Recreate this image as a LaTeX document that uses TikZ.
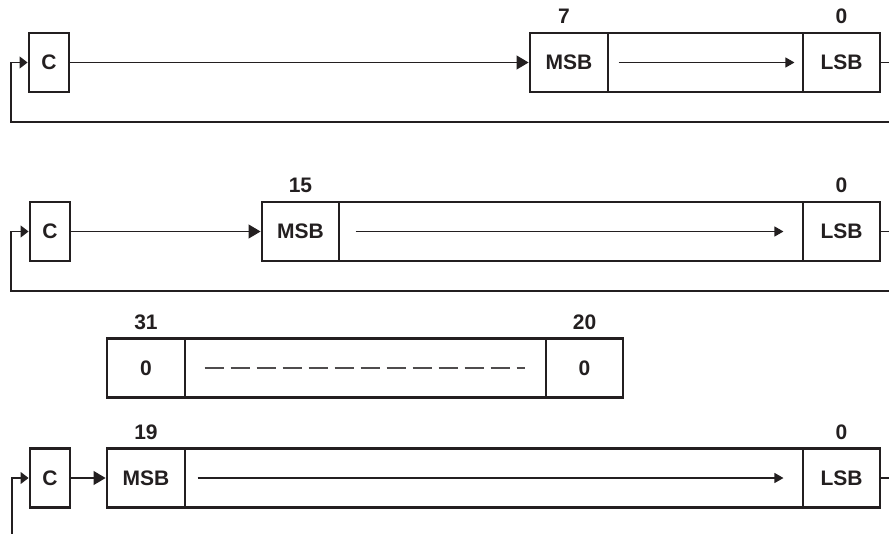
\documentclass[tikz,border=0pt]{standalone}
\usepackage{fontspec}
\setmainfont{Liberation Sans}
\usetikzlibrary{arrows.meta}
\definecolor{ink}{HTML}{231F20}
\tikzset{
  box/.style={draw=ink, line width=2.9pt, rectangle, inner sep=0pt, minimum height=59pt,
    font=\fontsize{21}{21}\selectfont\bfseries, text=ink},
  lab/.style={anchor=base, inner sep=0pt, font=\fontsize{21}{21}\selectfont\bfseries, text=ink},
  conn/.style={draw=ink, line width=1.2pt},
  bigtip/.style={-{Triangle[length=12pt,width=14pt]}},
  smalltip/.style={-{Triangle[length=9pt,width=10pt]}},
  fbtip/.style={-{Triangle[length=8pt,width=12pt]}},
  dashline/.style={draw=ink!80, line width=1.2pt, dash pattern=on 19pt off 7pt}
}
\begin{document}
\begin{tikzpicture}[x=1pt,y=-1pt]
\useasboundingbox (0,0) rectangle (889,533);
\clip (0,0) rectangle (889,533);

% ---------- Row 1 ----------
\node[box, minimum width=40pt] (c1) at (49,62.5) {C};
\node[box, minimum width=78pt] (m1) at (569,62.5) {MSB};
\node[box, minimum width=195pt] (mid1) at (705.5,62.5) {};
\node[box, minimum width=77pt] (l1) at (841.5,62.5) {LSB};
\node[lab] (t7) at ([yshift=8pt]m1.north -| 564,0) {7};
\node[lab] (t0a) at ([yshift=8pt]l1.north) {0};
\coordinate (fb1) at (11,122);
\draw[conn, bigtip] (c1.east) -- (m1.west);
\draw[conn, smalltip] ([xshift=12pt]mid1.west) -- ([xshift=-10pt]mid1.east);
\draw[conn, fbtip] (l1.east) -- ++(20,0) |- (fb1) |- (c1.west);

% ---------- Row 2 ----------
\node[box, minimum width=40pt] (c2) at (50,231.5) {C};
\node[box, minimum width=77pt] (m2) at (300.5,231.5) {MSB};
\node[box, minimum width=464pt] (mid2) at (571,231.5) {};
\node[box, minimum width=77pt] (l2) at (841.5,231.5) {LSB};
\node[lab] (t15) at ([yshift=8pt]m2.north) {15};
\node[lab] (t0b) at ([yshift=8pt]l2.north) {0};
\coordinate (fb2) at (11,291);
\draw[conn, bigtip] (c2.east) -- (m2.west);
\draw[conn, smalltip] ([xshift=18pt]mid2.west) -- ([xshift=-21pt]mid2.east);
\draw[conn, fbtip] (l2.east) -- ++(20,0) |- (fb2) |- (c2.west);

% ---------- Row 3 ----------
\node[box, minimum width=78pt] (z1) at (146,368) {0};
\node[box, minimum width=361pt] (mid3) at (365.5,368) {};
\node[box, minimum width=77pt] (z2) at (584.5,368) {0};
\node[lab] (t31) at ([yshift=8pt]z1.north) {31};
\node[lab] (t20) at ([yshift=8pt]z2.north) {20};
\draw[dashline] ([xshift=21pt]mid3.west) -- ([xshift=-22pt]mid3.east);

% ---------- Row 4 ----------
\node[box, minimum width=40pt] (c4) at (50,478) {C};
\node[box, minimum width=78pt] (m4) at (146,478) {MSB};
\node[box, minimum width=618pt] (mid4) at (494,478) {};
\node[box, minimum width=77pt] (l4) at (841.5,478) {LSB};
\node[lab] (t19) at ([yshift=8pt]m4.north) {19};
\node[lab] (t0c) at ([yshift=8pt]l4.north) {0};
\coordinate (fb4) at (12,545);
\draw[conn, bigtip] (c4.east) -- (m4.west);
\draw[conn, smalltip] ([xshift=14pt]mid4.west) -- ([xshift=-21pt]mid4.east);
\draw[conn] (l4.east) -- ++(20,0);
\draw[conn, fbtip] (fb4) |- (c4.west);
\end{tikzpicture}
\end{document}
